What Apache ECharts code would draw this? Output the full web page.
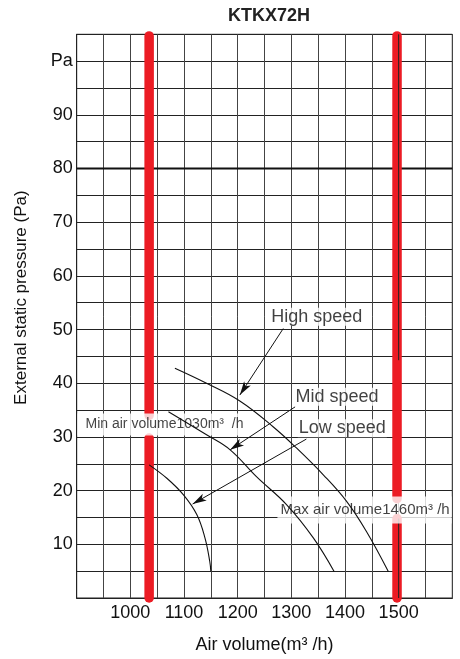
<!DOCTYPE html>
<html>
<head>
<meta charset="utf-8">
<title>KTKX72H</title>
<script src="https://cdn.jsdelivr.net/npm/echarts@6/dist/echarts.min.js"></script>
<style>
  html, body { margin: 0; padding: 0; background: #fff; }
  #chart { width: 460px; height: 659px; }
</style>
</head>
<body>
<div id="chart"></div>
<script>
const xMin = 900;
const xMax = 1600;
const yMin = 0;
const yMax = 105;

const xTickValues = [1000, 1100, 1200, 1300, 1400, 1500];
const yTickValues = [10, 20, 30, 40, 50, 60, 70, 80, 90, 100];
const yTickLabels = ["10", "20", "30", "40", "50", "60", "70", "80", "90", "Pa"];

// fan curves [air volume, pressure]
const highSpeed = [[1083, 42.8], [1142, 40.0], [1204, 36.7], [1266, 31.9], [1310, 27.9], [1360, 22.9], [1403, 18.0], [1440, 12.4], [1481, 4.9]];
const midSpeed = [[1071, 34.7], [1142, 30.4], [1186, 27.6], [1235, 22.6], [1291, 17.4], [1341, 11.2], [1380, 4.9]];
const lowSpeed = [[1035, 24.8], [1068, 22.3], [1099, 19.2], [1124, 15.5], [1139, 11.2], [1148, 6.8], [1150, 4.9]];

// red limit bars (drawn position, pressure segments)
const minBarX = 1035;
const minBarSegments = [[0, 29.8], [34, 104.7]];
const maxBarX = 1497;
const maxBarSegments = [[0, 14.8], [18.5, 104.7]];
// grid line that shows through the max bar
const overBarSegments = [[0, 14.8], [44.3, 105]];

// arrows: [from, to]
const arrows = [
  [[1285, 50.2], [1204, 37.8]],
  [[1307, 35.6], [1186, 27.6]],
  [[1328, 29.6], [1116, 17.5]],
];

const notes = [
  { text: "High speed", at: [1259.6, 52.4] },
  { text: "Mid speed", at: [1305, 37.5] },
  { text: "Low speed", at: [1311, 31.6] },
];
const limitNotes = [
  { text: "Min air volume1030m\u00b3  /h", at: [900.6, 32.3] },
  { text: "Max air volume1460m\u00b3 /h", at: [1273.2, 16.4] },
];

const font = "'Liberation Sans', Arial, sans-serif";
const chart = echarts.init(document.getElementById("chart"), null, { renderer: "canvas" });

const barSeries = (x, segments, color, width, z) =>
  segments.map((seg) => ({
    type: "line",
    data: [[x, seg[0]], [x, seg[1]]],
    symbol: "none",
    clip: false,
    silent: true,
    z,
    lineStyle: { color, width, cap: "round" },
  }));

const curveSeries = (data) => ({
  type: "line",
  data,
  smooth: 0.4,
  symbol: "none",
  silent: true,
  z: 5,
  lineStyle: { color: "#111", width: 1.1 },
});

const option = {
  animation: false,
  title: {
    text: "KTKX72H",
    left: 264,
    top: 2,
    textAlign: "center",
    textStyle: { fontFamily: font, fontSize: 18, fontWeight: "bold", color: "#222" },
  },
  grid: {
    left: 76.7,
    right: 7.7,
    top: 34.3,
    bottom: 60.7,
    show: true,
    borderColor: "#222",
    borderWidth: 1,
  },
  xAxis: {
    type: "value",
    min: xMin,
    max: xMax,
    interval: 50,
    name: "Air volume(m\u00b3 /h)",
    nameLocation: "middle",
    nameGap: 38,
    nameTextStyle: { fontFamily: font, fontSize: 18, color: "#111" },
    axisLine: { show: true, lineStyle: { color: "#222", width: 1 } },
    axisTick: { show: false },
    axisLabel: {
      fontFamily: font,
      fontSize: 18,
      color: "#111",
      margin: 6,
      showMinLabel: false,
      showMaxLabel: false,
      formatter: (v) => (xTickValues.includes(v) ? String(v) : ""),
    },
    splitLine: { show: true, lineStyle: { color: "#444", width: 1 } },
  },
  yAxis: {
    type: "value",
    min: yMin,
    max: yMax,
    interval: 5,
    name: "External static pressure (Pa)",
    nameLocation: "middle",
    nameRotate: 90,
    nameGap: 47,
    nameTextStyle: { fontFamily: font, fontSize: 17, color: "#111", padding: [0, 0, 0, 37] },
    axisLine: { show: true, lineStyle: { color: "#222", width: 1 } },
    axisTick: { show: false },
    axisLabel: {
      fontFamily: font,
      fontSize: 18,
      color: "#111",
      margin: 4,
      formatter: (v) => {
        const i = yTickValues.indexOf(v);
        return i >= 0 ? yTickLabels[i] : "";
      },
    },
    splitLine: { show: true, lineStyle: { color: "#222", width: 1 } },
  },
  series: [
    // heavier 80 Pa line
    {
      type: "line",
      data: [[xMin, 80], [xMax, 80]],
      symbol: "none",
      silent: true,
      z: 1,
      lineStyle: { color: "#111", width: 2 },
    },
    ...barSeries(minBarX, minBarSegments, "#ec1c24", 9.5, 2),
    ...barSeries(maxBarX, maxBarSegments, "#ec1c24", 9.5, 2),
    ...overBarSegments.map((seg) => ({
      type: "line",
      data: [[1500, seg[0]], [1500, seg[1]]],
      symbol: "none",
      silent: true,
      z: 3,
      lineStyle: { color: "#222", width: 1 },
    })),
    // text notes with white boxes
    {
      type: "scatter",
      silent: true,
      z: 3,
      symbolSize: 1,
      itemStyle: { color: "rgba(0,0,0,0)" },
      data: [
        ...notes.map((n) => ({
          value: n.at,
          label: {
            show: true,
            position: "right",
            distance: 0,
            formatter: n.text,
            fontFamily: font,
            fontSize: 18,
            color: "#111",
            backgroundColor: "#fff",
            padding: [0, 1],
          },
        })),
        ...limitNotes.map((n, i) => ({
          value: n.at,
          label: {
            show: true,
            position: "right",
            distance: 0,
            formatter: n.text,
            fontFamily: font,
            fontSize: i === 0 ? 14 : 15,
            color: "#111",
            backgroundColor: "#fff",
            padding: i === 0 ? [4, 6, 4, 8] : [6, 2, 6, 3],
          },
        })),
      ],
    },
    // arrows
    {
      type: "line",
      data: [],
      silent: true,
      z: 6,
      markLine: {
        silent: true,
        symbol: ["none", "arrow"],
        symbolSize: [6, 14],
        label: { show: false },
        lineStyle: { color: "#111", width: 1, type: "solid" },
        data: arrows.map((a) => [{ coord: a[0] }, { coord: a[1] }]),
      },
    },
    curveSeries(highSpeed),
    curveSeries(midSpeed),
    curveSeries(lowSpeed),
  ],
};

chart.setOption(option);
</script>
</body>
</html>
